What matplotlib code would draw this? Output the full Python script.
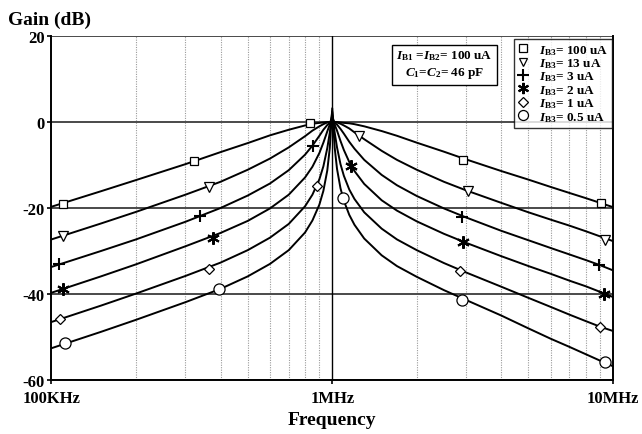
import matplotlib
matplotlib.use("Agg")
import matplotlib.pyplot as plt
import numpy as np

plt.rcParams['font.family'] = ['Liberation Serif', 'DejaVu Serif']
plt.rcParams['font.weight'] = 'bold'
plt.rcParams['mathtext.fontset'] = 'custom'
plt.rcParams['mathtext.rm'] = 'Liberation Serif:bold'
plt.rcParams['mathtext.it'] = 'Liberation Serif:italic:bold'
plt.rcParams['mathtext.bf'] = 'Liberation Serif:bold'

# frequency grid of the traces [MHz]
freq = [0.1, 0.15, 0.2, 0.3, 0.4, 0.5, 0.6, 0.7, 0.8, 0.85, 0.9, 0.93, 0.96, 0.98, 1.0,
        1.02, 1.04, 1.07, 1.1, 1.15, 1.2, 1.3, 1.5, 1.7, 2.0, 2.5, 3.0, 4.0, 5.0, 6.0,
        7.0, 8.0, 9.0, 10.0]

# gain [dB] for each IB3
gain_100u = [-19.7, -16.1, -13.5, -9.8, -7.0, -4.9, -3.1, -1.8, -0.8, -0.4, -0.2, -0.1, 0.0, 0.0, 0.0,
             0.0, 0.0, -0.1, -0.2, -0.3, -0.5, -1.0, -2.1, -3.2, -4.8, -6.9, -8.7, -11.4, -13.4, -15.1,
             -16.5, -17.7, -18.8, -19.8]
gain_13u = [-27.3, -23.6, -20.9, -16.9, -13.9, -11.1, -8.5, -5.9, -3.3, -2.0, -1.0, -0.5, -0.1, 0.0, 0.3,
            0.0, -0.1, -0.4, -0.8, -1.5, -2.4, -4.0, -6.7, -8.8, -11.1, -13.9, -15.9, -18.8, -21.0, -22.7,
            -24.1, -25.4, -26.6, -27.7]
gain_3u = [-33.7, -30.0, -27.3, -23.2, -20.0, -17.1, -14.3, -11.2, -7.6, -5.5, -3.2, -1.8, -0.7, -0.2, 0.8,
           -0.2, -0.6, -1.6, -2.7, -4.6, -6.2, -8.8, -12.3, -14.7, -17.2, -20.1, -22.2, -25.3, -27.5, -29.3,
           -30.8, -32.1, -33.3, -34.5]
gain_2u = [-39.7, -35.9, -33.1, -28.9, -25.8, -23.0, -20.1, -16.9, -12.9, -10.4, -7.2, -4.8, -2.2, -0.6, 1.5,
           -0.6, -2.0, -4.4, -6.5, -9.3, -11.4, -14.4, -18.2, -20.6, -23.1, -26.0, -28.1, -31.2, -33.5, -35.3,
           -36.9, -38.2, -39.5, -40.7]
gain_1u = [-46.5, -42.7, -39.9, -35.8, -32.7, -29.8, -26.9, -23.7, -19.6, -16.9, -13.3, -10.3, -6.1, -2.5, 2.4,
           -2.4, -5.9, -9.8, -12.5, -15.7, -17.9, -21.0, -24.8, -27.3, -29.8, -32.8, -35.0, -38.3, -40.9, -43.0,
           -44.8, -46.3, -47.6, -48.6]
gain_05u = [-52.6, -48.8, -46.0, -41.9, -38.8, -35.9, -33.0, -29.8, -25.7, -22.9, -19.2, -16.0, -11.3, -6.1, 3.2,
            -5.9, -10.9, -15.4, -18.3, -21.6, -23.9, -27.1, -31.0, -33.5, -36.0, -39.1, -41.4, -45.0, -48.0, -50.4,
            -52.3, -54.0, -55.5, -56.8]

# marker positions on each trace [MHz], [dB]
mk_f_100u = [0.1096, 0.3212, 0.8365, 2.93, 9.1]
mk_g_100u = [-19.1, -9.1, -0.2, -8.8, -18.8]
mk_f_13u = [0.1102, 0.364, 1.243, 3.04, 9.37]
mk_g_13u = [-26.6, -15.2, -3.3, -16.0, -27.4]
mk_f_3u = [0.1063, 0.338, 0.851, 2.91, 8.95]
mk_g_3u = [-33.0, -21.9, -5.6, -22.0, -33.2]
mk_f_2u = [0.1102, 0.375, 1.17, 2.913, 9.3]
mk_g_2u = [-38.9, -27.0, -10.2, -28.0, -39.9]
mk_f_1u = [0.107, 0.364, 0.883, 2.86, 9.0]
mk_g_1u = [-45.8, -34.2, -14.9, -34.7, -47.6]
mk_f_05u = [0.1117, 0.395, 1.093, 2.91, 9.38]
mk_g_05u = [-51.5, -38.9, -17.6, -41.3, -55.9]

labels = [r'$I_{\rm B3}$= 100 uA', r'$I_{\rm B3}$= 13 uA', r'$I_{\rm B3}$= 3 uA',
          r'$I_{\rm B3}$= 2 uA', r'$I_{\rm B3}$= 1 uA', r'$I_{\rm B3}$= 0.5 uA']

yticks = [-60, -40, -20, 0, 20]
ytick_labels = ['-60', '-40', '-20', '0', '20']
xticks_mhz = [0.1, 1.0, 10.0]
xtick_labels = ['100KHz', '1MHz', '10MHz']

traces = [gain_100u, gain_13u, gain_3u, gain_2u, gain_1u, gain_05u]
mk_f = [mk_f_100u, mk_f_13u, mk_f_3u, mk_f_2u, mk_f_1u, mk_f_05u]
mk_g = [mk_g_100u, mk_g_13u, mk_g_3u, mk_g_2u, mk_g_1u, mk_g_05u]
styles = [dict(marker='s', ms=6, mfc='white', mew=0.9),
          dict(marker='v', ms=7, mfc='white', mew=0.9),
          dict(marker='+', ms=9, mew=1.5),
          dict(marker=(6, 2, 0), ms=9, mew=1.5),
          dict(marker='D', ms=5.5, mfc='white', mew=0.9),
          dict(marker='o', ms=8, mfc='white', mew=0.9)]

fig = plt.figure(figsize=(6.42, 4.35), dpi=100)
ax = fig.add_axes([0.0802, 0.1241, 0.8746, 0.7908])

f_hz = np.array(freq) * 1e6

# grid first so the traces sit on top
for dec in [1e5, 1e6]:
    for k in range(2, 10):
        ax.axvline(k * dec, color='#9a9a9a', lw=0.8, ls=(0, (1, 1.2)), zorder=1)
for yv in yticks:
    ax.axhline(yv, color='#4a4a4a', lw=1.4, zorder=1)
ax.axvline(1e6, color='black', lw=1.0, zorder=1)

handles = []
for g, mf, mg, st in zip(traces, mk_f, mk_g, styles):
    ax.plot(f_hz, g, color='black', lw=1.4, zorder=3)
    ax.plot(np.array(mf) * 1e6, mg, ls='none', color='black', mec='black', zorder=4, **st)
    h, = ax.plot([], [], ls='none', color='black', mec='black', **st)
    handles.append(h)

ax.set_xscale('log')
ax.set_xlim(1e5, 1e7)
ax.set_ylim(-60, 20)
ax.set_xticks(np.array(xticks_mhz) * 1e6)
ax.set_xticklabels(xtick_labels)
ax.xaxis.set_minor_locator(matplotlib.ticker.NullLocator())
ax.set_yticks(yticks)
ax.set_yticklabels(ytick_labels)
ax.tick_params(axis='both', direction='out', length=3, width=1.2, labelsize=12, pad=2)
ax.tick_params(axis='x', pad=4)
for lab in ax.get_xticklabels() + ax.get_yticklabels():
    lab.set_fontweight('bold')

ax.spines['top'].set_visible(False)
for s in ['left', 'bottom', 'right']:
    ax.spines[s].set_linewidth(1.4)
    ax.spines[s].set_color('black')

fig.text(0.012, 0.943, 'Gain (dB)', fontsize=14, fontweight='bold')
ax.set_xlabel('Frequency', fontsize=14, fontweight='bold', labelpad=4)

ax.text(0.70, 0.917, '$I_{\\rm B1}$ =$I_{\\rm B2}$= 100 uA\n$C_{1}$=$C_{2}$= 46 pF',
        transform=ax.transAxes, ha='center', va='center', fontsize=9.5, linespacing=1.3,
        bbox=dict(boxstyle='square,pad=0.35', fc='white', ec='black', lw=1.0), zorder=5)

leg = ax.legend(handles, labels, loc='upper right', bbox_to_anchor=(0.998, 0.992),
                fontsize=9.5, frameon=True, fancybox=False, edgecolor='black',
                handlelength=0.8, handletextpad=0.8, labelspacing=-0.03,
                borderpad=0.3, borderaxespad=0.0, markerscale=0.9)
leg.get_frame().set_linewidth(1.0)
leg.set_zorder(6)

fig.savefig('out.png', dpi=100, facecolor='white')
